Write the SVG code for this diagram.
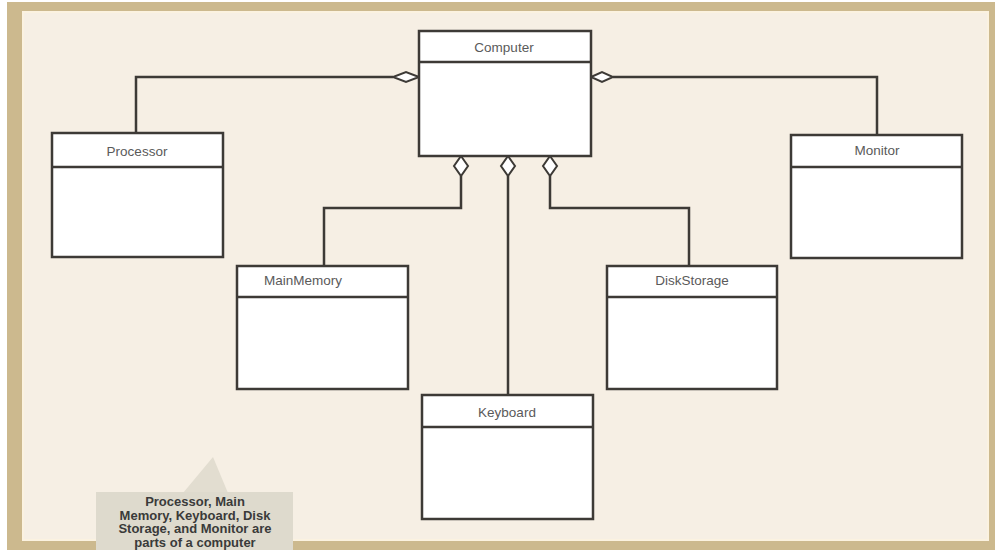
<svg xmlns="http://www.w3.org/2000/svg" width="995" height="550" viewBox="0 0 995 550">
<style>
.box{fill:#ffffff;stroke:#3d3a36;stroke-width:2.5}
.div{stroke:#3d3a36;stroke-width:2.5}
.lbl{font-family:"Liberation Sans",Arial,sans-serif;font-size:13.5px;fill:#5a5a5a;text-anchor:middle}
.conn{fill:none;stroke:#3d3a36;stroke-width:2.5}
.dia{fill:#ffffff;stroke:#3d3a36;stroke-width:2}
.note{font-family:"Liberation Sans",Arial,sans-serif;font-size:13px;font-weight:bold;fill:#3a3a3a;text-anchor:middle}
</style>
<rect x="0" y="0" width="995" height="550" fill="#ffffff"/>
<rect x="7" y="2" width="988" height="548" fill="#ccb98e"/>
<rect x="22" y="11" width="967" height="530" fill="#fbf2e0"/>
<rect x="24" y="13" width="963" height="526" fill="#f6efe4"/>
<g id="connectors">
<polyline class="conn" points="136,133 136,77 393,77"/>
<polyline class="conn" points="877,135 877,77 613,77"/>
<polyline class="conn" points="324,266 324,208 461,208 461,176"/>
<polyline class="conn" points="508,395 508,176"/>
<polyline class="conn" points="689,266 689,208 550,208 550,176"/>
<polygon class="dia" points="419,77 406,72 393,77 406,82"/>
<polygon class="dia" points="591,77 602,72 613,77 602,82"/>
<polygon class="dia" points="461,156 468,166 461,176 454,166"/>
<polygon class="dia" points="508,156 515,166 508,176 501,166"/>
<polygon class="dia" points="550,156 557,166 550,176 543,166"/>
</g>
<g id="computer">
<rect class="box" x="419" y="31" width="172" height="125"/>
<line class="div" x1="419" y1="62" x2="591" y2="62"/>
<text class="lbl" x="504" y="52">Computer</text>
</g>
<g id="processor">
<rect class="box" x="52" y="133" width="171" height="124"/>
<line class="div" x1="52" y1="167" x2="223" y2="167"/>
<text class="lbl" x="137" y="156">Processor</text>
</g>
<g id="monitor">
<rect class="box" x="791" y="135" width="171" height="123"/>
<line class="div" x1="791" y1="167" x2="962" y2="167"/>
<text class="lbl" x="877" y="155">Monitor</text>
</g>
<g id="mainmemory">
<rect class="box" x="237" y="266" width="171" height="123"/>
<line class="div" x1="237" y1="297" x2="408" y2="297"/>
<text class="lbl" x="303" y="285">MainMemory</text>
</g>
<g id="diskstorage">
<rect class="box" x="607" y="266" width="170" height="123"/>
<line class="div" x1="607" y1="297" x2="777" y2="297"/>
<text class="lbl" x="692" y="285">DiskStorage</text>
</g>
<g id="keyboard">
<rect class="box" x="422" y="395" width="171" height="124"/>
<line class="div" x1="422" y1="427" x2="593" y2="427"/>
<text class="lbl" x="507" y="417">Keyboard</text>
</g>
<g id="note">
<polygon points="213,457 183,493 228,493" fill="#e2ddd0"/>
<rect x="96" y="492" width="197" height="58" fill="#dedacd"/>
<text class="note" x="195" y="506">Processor, Main</text>
<text class="note" x="195" y="519.5">Memory, Keyboard, Disk</text>
<text class="note" x="195" y="533">Storage, and Monitor are</text>
<text class="note" x="195" y="546.5">parts of a computer</text>
</g>
</svg>
